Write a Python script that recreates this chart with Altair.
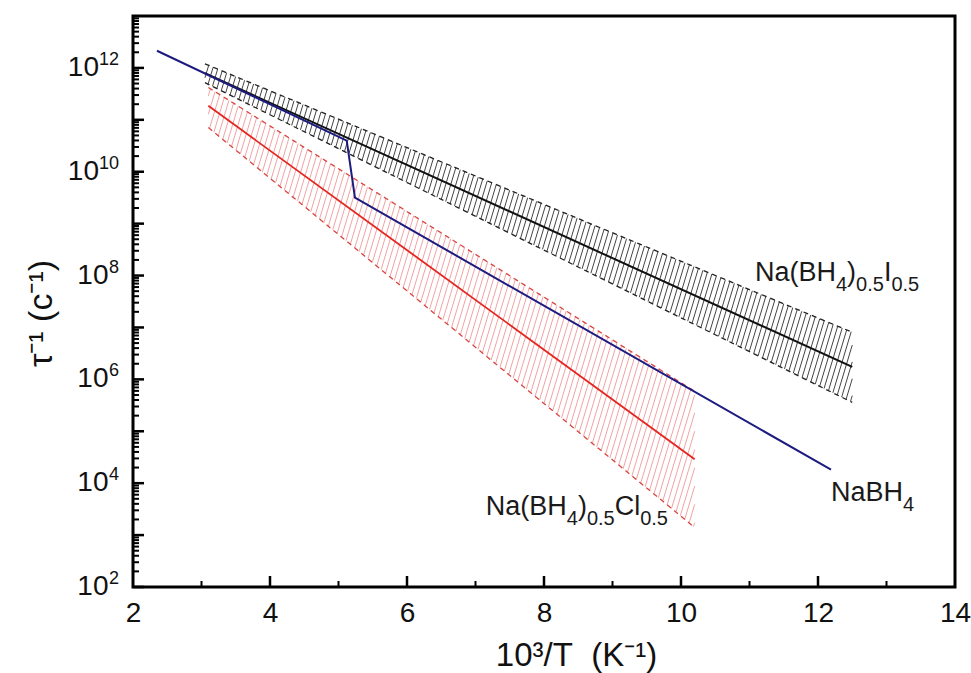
import altair as alt
import pandas as pd
import numpy as np

# ---------------- data ----------------
# NaBH4 (blue line)
nabh4_x = [2.35, 5.12, 5.24, 12.19]
nabh4_y = [2.14e12, 3.98e10, 3.16e9, 1.82e4]

# Na(BH4)0.5I0.5 band (black)
i_x = [3.05, 12.5]
i_mid = [7.9e11, 1.74e6]
i_hi = [1.2e12, 8.1e6]
i_lo = [5.2e11, 3.6e5]

# Na(BH4)0.5Cl0.5 band (red)
cl_x = [3.1, 10.2]
cl_mid = [1.86e11, 2.9e4]
cl_hi = [4.2e11, 5.9e5]
cl_lo = [7.1e10, 1.4e3]

x_major = [2, 4, 6, 8, 10, 12, 14]
x_major_ticks = [4, 6, 8, 10, 12]
x_minor_ticks = [3, 5, 7, 9, 11, 13]
y_decades = list(range(2, 13))
y_label_exps_1 = [2, 4, 6, 8]
y_label_exps_2 = [10, 12]

# ---------------- layout ----------------
W, H = 822, 571
FONT = "Liberation Sans"
PX_X = W / 12.0
PX_L = H / 11.0

xscale = alt.Scale(domain=[2, 14], nice=False, zero=False)
yscale = alt.Scale(type="log", domain=[1e2, 1e13], nice=False)

xaxis = alt.Axis(values=x_major, title="10³/T\u00a0\u00a0(K⁻¹)", labelFontSize=28, labelFont=FONT,
                 labelPadding=12, labelColor="#111", ticks=False, domain=False, grid=False,
                 titleFontSize=33, titleFont=FONT, titleFontWeight="normal", titleX=443, titleY=78,
                 titleBaseline="alphabetic", titleAlign="center", titleColor="#111",
                 labelFlush=False, labelOverlap=False, format="d")
yaxis = alt.Axis(labels=False, ticks=False, domain=False, grid=False, title="τ⁻¹ (c⁻¹)",
                 titleFontSize=34, titleFont=FONT, titleFontWeight="normal", titleAngle=270,
                 titleX=-82, titleY=297, titleBaseline="alphabetic", titleAlign="center",
                 titleColor="#111")


def X(f):
    return alt.X(f, type="quantitative", scale=xscale, axis=xaxis)


def Y(f):
    return alt.Y(f, type="quantitative", scale=yscale, axis=yaxis)


def hatch_rows(xs, lo, hi, step_px, lean):
    x0, x1 = xs
    l0, l1 = np.log10(lo)
    h0, h1 = np.log10(hi)
    sl = (l1 - l0) / (x1 - x0)
    sh = (h1 - h0) / (x1 - x0)
    k = lean * PX_L / PX_X
    step = step_px / PX_X
    rows = []
    xb = x0 - k * (h0 - l0)
    while xb < x1:
        Lb = l0 + sl * (xb - x0)
        s_top = (h0 + sh * (xb - x0) - Lb) / (1 - sh * k)
        t0 = max(0.0, (x0 - xb) / k)
        t1 = min(s_top, (x1 - xb) / k)
        if t1 > t0:
            rows.append(dict(x=xb + k * t0, y=10 ** (Lb + t0), x2=xb + k * t1, y2=10 ** (Lb + t1)))
        xb += step
    return pd.DataFrame(rows)


def line_df(xs, ys):
    return pd.DataFrame({"x": xs, "y": ys})


layers = []

# hatching
layers.append(alt.Chart(hatch_rows(cl_x, cl_lo, cl_hi, 4.4, 0.3)).mark_rule(color="#f2a3a3", strokeWidth=1)
              .encode(x=X("x"), y=Y("y"), x2="x2", y2="y2"))
layers.append(alt.Chart(hatch_rows(i_x, i_lo, i_hi, 4.4, 0.3)).mark_rule(color="#444444", strokeWidth=1)
              .encode(x=X("x"), y=Y("y"), x2="x2", y2="y2"))

# band edges (dashed)
for ys in (cl_hi, cl_lo):
    layers.append(alt.Chart(line_df(cl_x, ys)).mark_line(color="#d9453f", strokeWidth=1.3, strokeDash=[5, 4])
                  .encode(x=X("x"), y=Y("y")))
for ys in (i_hi, i_lo):
    layers.append(alt.Chart(line_df(i_x, ys)).mark_line(color="#222222", strokeWidth=1.3, strokeDash=[5, 4])
                  .encode(x=X("x"), y=Y("y")))

# central lines
layers.append(alt.Chart(line_df(cl_x, cl_mid)).mark_line(color="#e3261f", strokeWidth=1.8)
              .encode(x=X("x"), y=Y("y")))
layers.append(alt.Chart(line_df(i_x, i_mid)).mark_line(color="#111111", strokeWidth=2)
              .encode(x=X("x"), y=Y("y")))

# NaBH4
layers.append(alt.Chart(line_df(nabh4_x, nabh4_y)).mark_line(color="#1c1c80", strokeWidth=2)
              .encode(x=X("x"), y=Y("y")))

# inward ticks
y_major_df = pd.DataFrame({"v": [10.0 ** e for e in y_decades]})
y_minor_df = pd.DataFrame({"v": [k * 10.0 ** e for e in y_decades for k in range(2, 10)]})
layers.append(alt.Chart(y_major_df).mark_rule(color="black", strokeWidth=2.5)
              .encode(y=Y("v"), x=alt.value(0), x2=alt.value(11)))
layers.append(alt.Chart(y_minor_df).mark_rule(color="black", strokeWidth=2)
              .encode(y=Y("v"), x=alt.value(0), x2=alt.value(6)))
layers.append(alt.Chart(pd.DataFrame({"v": x_major_ticks})).mark_rule(color="black", strokeWidth=2.5)
              .encode(x=X("v"), y=alt.value(H), y2=alt.value(H - 11)))
layers.append(alt.Chart(pd.DataFrame({"v": x_minor_ticks})).mark_rule(color="black", strokeWidth=2)
              .encode(x=X("v"), y=alt.value(H), y2=alt.value(H - 6)))

# y tick labels 10^n
for exps, base_x in ((y_label_exps_1, -24.5), (y_label_exps_2, -34)):
    df = pd.DataFrame({"v": [10.0 ** e for e in exps], "e": [str(e) for e in exps]})
    layers.append(alt.Chart(df).mark_text(text="10", align="right", baseline="middle", fontSize=28,
                                          font=FONT, color="#111")
                  .encode(y=Y("v"), x=alt.value(base_x)))
    layers.append(alt.Chart(df).mark_text(align="right", baseline="middle", fontSize=18, font=FONT,
                                          color="#111", dy=-8)
                  .encode(y=Y("v"), x=alt.value(-14), text="e:N"))

# rich-text labels
CW = {'N': .722, 'a': .556, '(': .333, 'B': .667, 'H': .722, ')': .333, 'I': .278, 'C': .722,
      'l': .222, '0': .556, '.': .278, '5': .556, '4': .556}


def rich(xv, yv, pieces, big=27, small=20, sub_dy=10):
    out = []
    off = 0.0
    df = pd.DataFrame({"x": [xv], "y": [yv]})
    for txt, sub in pieces:
        fs = small if sub else big
        out.append(alt.Chart(df).mark_text(text=txt, align="left", baseline="alphabetic", fontSize=fs,
                                           font=FONT, color="#1a1a1a", dx=off, dy=sub_dy if sub else 0)
                   .encode(x=X("x"), y=Y("y")))
        off += sum(CW[c] for c in txt) * fs
    return out


label_i = [("Na(BH", 0), ("4", 1), (")", 0), ("0.5", 1), ("I", 0), ("0.5", 1)]
label_cl = [("Na(BH", 0), ("4", 1), (")", 0), ("0.5", 1), ("Cl", 0), ("0.5", 1)]
label_na = [("NaBH", 0), ("4", 1)]
layers += rich(11.08, 10 ** 7.90, label_i)
layers += rich(7.15, 10 ** 3.385, label_cl)
layers += rich(12.19, 10 ** 3.66, label_na)

chart = alt.layer(*layers).properties(
    width=W, height=H,
    autosize=alt.AutoSizeParams(type="none"),
    padding={"left": 133, "top": 16, "right": 16, "bottom": 86},
    background="white",
).configure_view(stroke="black", strokeWidth=3)

chart.save("out.html", embed_options={"renderer": "svg", "actions": False})
